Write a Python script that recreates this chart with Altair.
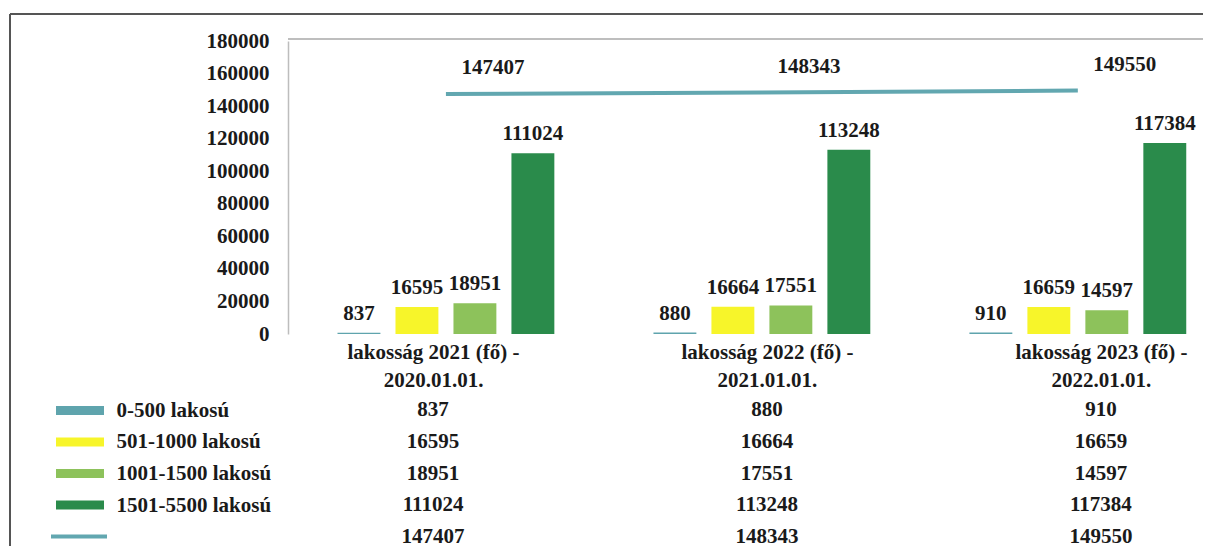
import altair as alt
import pandas as pd

# ---- data -------------------------------------------------------------
categories = [
    "lakosság 2021 (fő) - 2020.01.01.",
    "lakosság 2022 (fő) - 2021.01.01.",
    "lakosság 2023 (fő) - 2022.01.01.",
]
series_names = ["0-500 lakosú", "501-1000 lakosú", "1001-1500 lakosú", "1501-5500 lakosú"]
total_name = "összesen"
v_0_500 = [837, 880, 910]
v_501_1000 = [16595, 16664, 16659]
v_1001_1500 = [18951, 17551, 14597]
v_1501_5500 = [111024, 113248, 117384]
totals = [147407, 148343, 149550]
y_ticks = [0, 20000, 40000, 60000, 80000, 100000, 120000, 140000, 160000, 180000]

colors = ["#5fa4ad", "#f7f52a", "#8dc25b", "#2a8b4b"]
line_color = "#62a7b0"

series_values = [v_0_500, v_501_1000, v_1001_1500, v_1501_5500]
rows = []
for name, vals in zip(series_names, series_values):
    for c, v in zip(categories, vals):
        rows.append({"series": name, "category": c, "value": v})
bars_df = pd.DataFrame(rows)
tot_df = pd.DataFrame({"category": categories, "value": totals, "series": [total_name] * 3})
table_df = pd.concat([bars_df, tot_df], ignore_index=True)
one = pd.DataFrame({"k": [0]})

FONT = "Liberation Serif"
TXT = "#1a1a1a"
W = 915
H = 293
TH = 145
row_order = series_names + [total_name]

# ---- top chart ---------------------------------------------------------
x_bar = alt.X(
    "category:N", sort=categories, axis=None,
    scale=alt.Scale(type="band", domain=categories, paddingInner=0.266,
                    paddingOuter=0.081, align=0.82),
)
x_off = alt.XOffset(
    "series:N", sort=series_names,
    scale=alt.Scale(domain=series_names, paddingInner=0.26, paddingOuter=0.13),
)
y_val = alt.Y(
    "value:Q",
    scale=alt.Scale(domain=[0, 180000], nice=False),
    axis=alt.Axis(values=y_ticks, format="d", grid=False, ticks=False, tickSize=0,
                  labelPadding=19, domainColor="#bdbdbd", domainWidth=1.5,
                  title=None, labelOverlap=False, labelFlush=False),
)
color_enc = alt.Color("series:N", scale=alt.Scale(domain=series_names, range=colors), legend=None)

bars = alt.Chart(bars_df).mark_bar().encode(x=x_bar, xOffset=x_off, y=y_val, color=color_enc)
bar_labels = alt.Chart(bars_df).mark_text(
    baseline="bottom", dy=-9, font=FONT, fontWeight="bold", fontSize=21, color=TXT
).encode(x=x_bar, xOffset=x_off, y=y_val, text=alt.Text("value:Q", format="d"))

line = alt.Chart(tot_df).mark_line(color=line_color, strokeWidth=4).encode(x=x_bar, y=y_val)
line_labels = alt.Chart(tot_df).mark_text(
    dx=47, dy=-26, font=FONT, fontWeight="bold", fontSize=21, color=TXT
).encode(x=x_bar, y=y_val, text=alt.Text("value:Q", format="d"))

frame_top = alt.Chart(one).mark_rule(color="#555555", strokeWidth=2).encode(
    x=alt.value(-278), x2=alt.value(W), y=alt.value(-27))
frame_left = alt.Chart(one).mark_rule(color="#555555", strokeWidth=2).encode(
    x=alt.value(-278), y=alt.value(-27), y2=alt.value(505))
plot_top = alt.Chart(one).mark_rule(color="#a8a8a8", strokeWidth=1.5).encode(
    x=alt.value(0), x2=alt.value(W), y=alt.value(-2))

top = alt.layer(bars, bar_labels, line, line_labels, frame_top, frame_left, plot_top).properties(
    width=W, height=H)

# ---- data table --------------------------------------------------------
x_tab = alt.X(
    "category:N", sort=categories,
    scale=alt.Scale(type="point", domain=categories, padding=0.37, align=0.587),
    axis=alt.Axis(orient="top", title=None, ticks=False, tickSize=0, domain=False,
                  labelPadding=39, labelLineHeight=28, labelLimit=400, labelAngle=0,
                  labelExpr="[split(datum.label, ' - ')[0] + ' -', split(datum.label, ' - ')[1]]"),
)
y_tab = alt.Y(
    "series:N", sort=row_order,
    scale=alt.Scale(type="point", domain=row_order, padding=0.3),
    axis=alt.Axis(title=None, ticks=False, tickSize=0, domain=False, labelAlign="left",
                  labelPadding=172, labelLimit=300,
                  labelExpr="datum.label == '" + total_name + "' ? '' : datum.label"),
)

tab_text = alt.Chart(table_df).mark_text(
    font=FONT, fontWeight="bold", fontSize=21, color=TXT
).encode(x=x_tab, y=y_tab, text=alt.Text("value:Q", format="d"))

sw = alt.Chart(pd.DataFrame({"series": series_names})).mark_rule(strokeWidth=9).encode(
    y=y_tab, x=alt.value(-232), x2=alt.value(-184), color=color_enc)
sw_tot = alt.Chart(pd.DataFrame({"series": [total_name]})).mark_rule(
    strokeWidth=4, color=line_color).encode(
    y=y_tab, x=alt.value(-237), x2=alt.value(-181))

table = alt.layer(tab_text, sw, sw_tot).properties(width=W, height=TH)

chart = (
    alt.vconcat(top, table, spacing=67, bounds="flush")
    .properties(padding={"left": 0, "top": 4, "right": 0, "bottom": 0}, background="white")
    .configure_view(stroke="transparent")
    .configure_axis(labelFont=FONT, labelFontSize=21, labelFontWeight="bold", labelColor=TXT,
                    labelOverlap=False)
)

chart.save("out.html", embed_options={"renderer": "svg", "actions": False})
